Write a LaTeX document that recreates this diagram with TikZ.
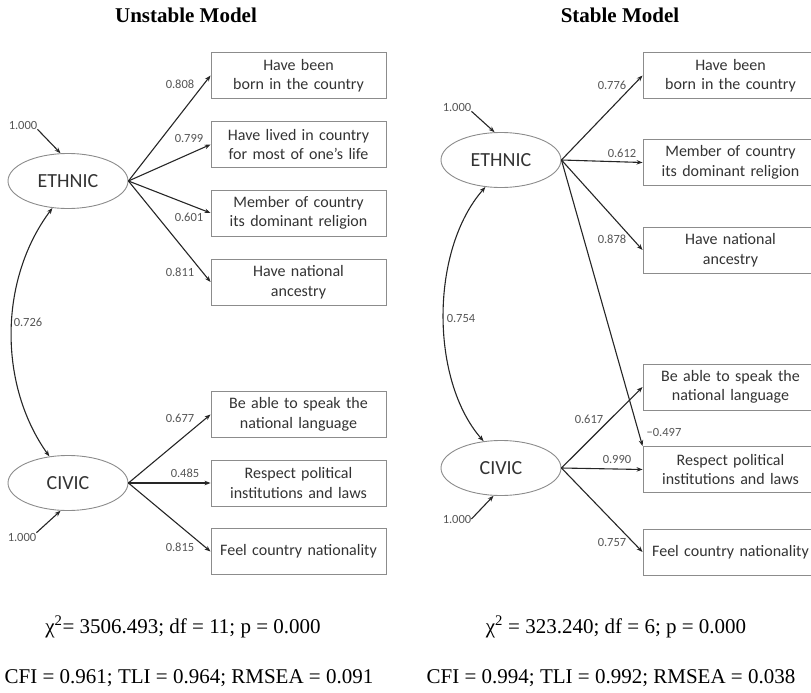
\documentclass[tikz,border=0pt]{standalone}
\usepackage{fontspec}
\setmainfont{Liberation Serif}
\newfontfamily\boxfont{Carlito}
\usetikzlibrary{shapes.geometric,arrows.meta}
\definecolor{boxgray}{HTML}{8C8C8C}
\definecolor{textgray}{HTML}{333333}
\definecolor{numgray}{HTML}{555555}
\tikzset{
  item/.style={draw=boxgray,line width=0.9pt,minimum width=175pt,minimum height=46pt,inner sep=0pt,text width=172pt,align=center,font=\boxfont\fontsize{16}{19.5}\selectfont,text=textgray},
  factor/.style={ellipse,draw=boxgray,line width=0.9pt,minimum width=120pt,minimum height=55pt,inner sep=0pt,font=\boxfont\fontsize{20}{24}\selectfont,text=textgray},
  load/.style={font=\boxfont\fontsize{12.5}{15}\selectfont,text=numgray,inner sep=0pt},
  link/.style={draw=black!85,line width=1.1pt,-{Stealth[length=6pt,width=4.5pt]}},
  covar/.style={draw=black!85,line width=1.1pt,{Stealth[length=6pt,width=4.5pt]}-{Stealth[length=6pt,width=4.5pt]}},
  stat/.style={font=\fontsize{21}{25}\selectfont,inner sep=0pt},
  heading/.style={font=\bfseries\fontsize{21}{25}\selectfont,inner sep=0pt}
}
\begin{document}
\begin{tikzpicture}[x=1pt,y=-1pt]
\useasboundingbox (0,0) rectangle (811,693);
\clip (0,0) rectangle (811,693);
% unstable model
\node[heading] (t1) at (186,15) {Unstable Model};
\node[factor] (ethL) at (68,181) {ETHNIC};
\node[factor] (civL) at (68,483) {CIVIC};
\node[item] (l1) at (298.5,75.5) {Have been\\born in the country};
\node[item] (l2) at (298.5,144.5) {Have lived in country\\for most of one’s life};
\node[item] (l3) at (298.5,213) {Member of country\\its dominant religion};
\node[item] (l4) at (298.5,282) {Have national\\ancestry};
\node[item] (l5) at (298.5,414.5) {Be able to speak the\\national language};
\node[item] (l6) at (298.5,483) {Respect political\\institutions and laws};
\node[item] (l7) at (298.5,551.5) {Feel country nationality};
\draw[link] (ethL.east) -- (l1.west);
\draw[link] (ethL.east) -- (l2.west);
\draw[link] (ethL.east) -- (l3.west);
\draw[link] (ethL.east) -- (l4.west);
\draw[link] (civL.east) -- (l5.west);
\draw[link] (civL.east) -- (l6.west);
\draw[link] (civL.east) -- (l7.west);
\node[load] (la1) at (180,84) {0.808};
\node[load] (la2) at (189,138) {0.799};
\node[load] (la3) at (189,217) {0.601};
\node[load] (la4) at (180,272) {0.811};
\node[load] (la5) at (180,418) {0.677};
\node[load] (la6) at (185,473) {0.485};
\node[load] (la7) at (180,547) {0.815};
\node[load] (vEL) at (23,125) {1.000};
\node[load] (vCL) at (22,537) {1.000};
\draw[link] (vEL.south east) -- (ethL.105);
\draw[link] (vCL.north east) -- (civL.255);
\draw[covar] (ethL.240) .. controls (-1.5,280) and (-1.5,385) .. (civL.125);
\node[load] (cL) at (28,322) {0.726};
% stable model
\node[heading] (t2) at (620,15) {Stable Model};
\node[factor] (ethR) at (501,160) {ETHNIC};
\node[factor] (civR) at (501,468) {CIVIC};
\node[item] (r1) at (730.5,75.5) {Have been\\born in the country};
\node[item] (r2) at (730.5,162.5) {Member of country\\its dominant religion};
\node[item] (r3) at (730.5,250) {Have national\\ancestry};
\node[item] (r4) at (730.5,387) {Be able to speak the\\national language};
\node[item] (r5) at (730.5,469.5) {Respect political\\institutions and laws};
\node[item] (r6) at (730.5,552) {Feel country nationality};
\draw[link] (ethR.east) -- (r1.west);
\draw[link] (ethR.east) -- (r2.west);
\draw[link] (ethR.east) -- (r3.west);
\draw[link] (ethR.east) -- (r5.north west);
\draw[link] (civR.east) -- (r4.west);
\draw[link] (civR.east) -- (r5.west);
\draw[link] (civR.east) -- (r6.west);
\node[load] (ra1) at (612,85) {0.776};
\node[load] (ra2) at (622,153) {0.612};
\node[load] (ra3) at (612,239) {0.878};
\node[load] (ra4) at (589,419) {0.617};
\node[load] (ra5) at (617,459) {0.990};
\node[load] (ra6) at (612,542) {0.757};
\node[load] (rx) at (664,432) {−0.497};
\node[load] (vER) at (457,107) {1.000};
\node[load] (vCR) at (457,519) {1.000};
\draw[link] (vER.south east) -- (ethR.103);
\draw[link] (vCR.east) -- (civR.255);
\draw[covar] (ethR.240) .. controls (430,250) and (430,380) .. (civR.123);
\node[load] (cR) at (461,318) {0.754};
% fit indices
\node[stat] (s1) at (183,627) {χ\textsuperscript{2}= 3506.493; df = 11; p = 0.000};
\node[stat] (s2) at (189,678) {CFI = 0.961; TLI = 0.964; RMSEA = 0.091};
\node[stat] (s3) at (616,627) {χ\textsuperscript{2} = 323.240; df = 6; p = 0.000};
\node[stat] (s4) at (611,678) {CFI = 0.994; TLI = 0.992; RMSEA = 0.038};
\end{tikzpicture}
\end{document}
